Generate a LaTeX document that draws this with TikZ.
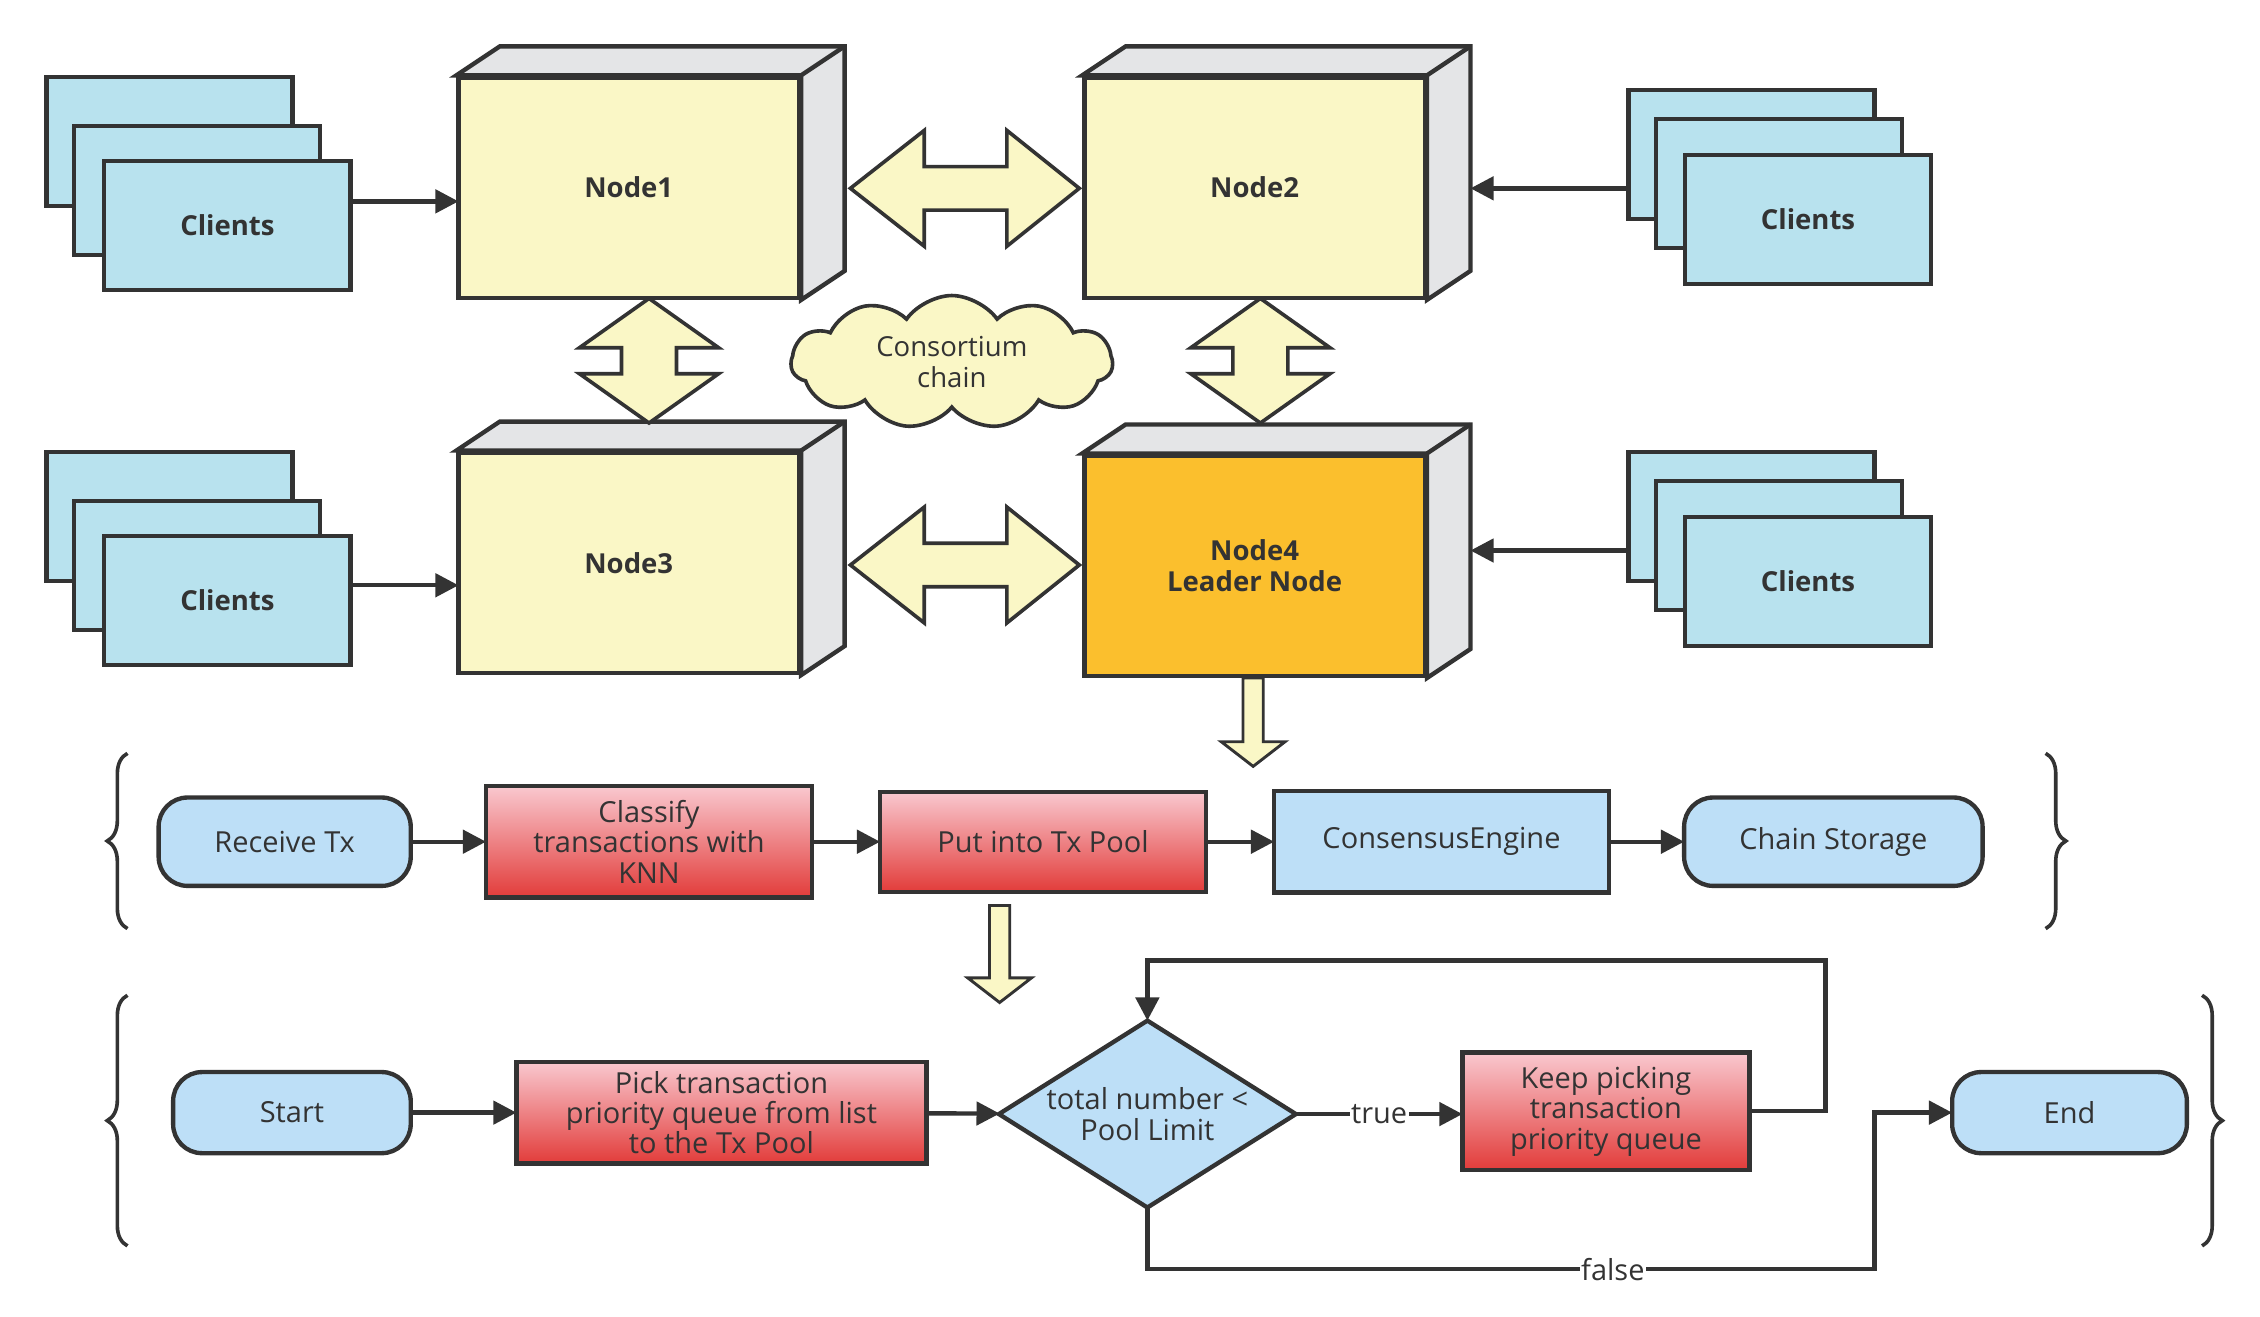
\documentclass[tikz,border=0pt]{standalone}
\usepackage{fontspec}
\setmainfont{Open Sans}
\usetikzlibrary{shapes.symbols,shapes.geometric,arrows.meta,decorations.pathreplacing}
\definecolor{ln}{HTML}{333333}
\definecolor{ylw}{HTML}{FAF7C6}
\definecolor{cli}{HTML}{B8E2EE}
\definecolor{side}{HTML}{E4E5E7}
\definecolor{fb}{HTML}{BDDFF7}
\definecolor{org}{HTML}{FBBF2D}
\definecolor{rtop}{HTML}{F9C8CF}
\definecolor{rbot}{HTML}{E23C3A}
\begin{document}
\begin{tikzpicture}[x=1pt,y=-1pt,line join=miter,
  every node/.style={font=\fontsize{20}{21}\selectfont,text=ln,align=center,inner sep=0pt,outer sep=0pt},
  bl/.style={draw=ln,line width=3pt},
  cl/.style={bl,fill=cli,font=\fontsize{19}{22}\selectfont\bfseries},
  arr/.style={line width=3pt,draw=ln,-{Triangle[length=16pt,width=16pt]}},
  big/.style={draw=ln,line width=2.5pt,fill=ylw},
  pill/.style={bl,fill=fb,rounded corners=20pt},
  red/.style={bl,top color=rtop,bottom color=rbot},
  brc/.style={draw=ln,line width=2.5pt,decorate,decoration={brace,amplitude=14pt}}]
\useasboundingbox (0,0) rectangle (1560,909);
\newcommand{\cube}[6]{%
  \fill[fill=side,draw=ln,line width=3pt] (#1,#2)--(#1+30,#2-20)--(#3+30,#2-20)--(#3+30,#4-20)--(#3,#4)--(#3,#2)--cycle;
  \draw[ln,line width=3pt] (#3,#2)--(#3+30,#2-20);
  \node[bl,fill=#5,minimum width=#3-#1-3,minimum height=#4-#2-3,anchor=north west] (#6) at (#1+1.5,#2+1.5) {};}
\cube{315}{52}{553}{207}{ylw}{n1}
\cube{747}{52}{985}{207}{ylw}{n2}
\cube{315}{311}{553}{466}{ylw}{n3}
\cube{747}{313}{985}{468}{org}{n4}
\node[font=\fontsize{19}{22}\selectfont\bfseries] at (n1) {Node1};
\node[font=\fontsize{19}{22}\selectfont\bfseries] at (n2) {Node2};
\node[font=\fontsize{19}{22}\selectfont\bfseries] at (n3) {Node3};
\node[font=\fontsize{19}{22}\selectfont\bfseries] at (n4) {Node4\\Leader Node};
\coordinate (n2r) at (1015,130);
\coordinate (n4r) at (1015,380);
\newcommand{\clients}[3]{%
  \node[cl,minimum width=170,minimum height=89,anchor=north west] at (#1,#2) {};
  \node[cl,minimum width=170,minimum height=89,anchor=north west] at (#1+19,#2+34) {};
  \node[cl,minimum width=170,minimum height=89,anchor=north west] (#3) at (#1+40,#2+58) {Clients};}
\clients{32}{53}{c1}
\clients{32}{312}{c3}
\newcommand{\clientsR}[3]{%
  \node[cl,minimum width=170,minimum height=89,anchor=north west] (#3b) at (#1,#2) {};
  \node[cl,minimum width=170,minimum height=89,anchor=north west] at (#1+19,#2+20) {};
  \node[cl,minimum width=170,minimum height=89,anchor=north west] (#3) at (#1+39,#2+45) {Clients};}
\clientsR{1124}{62}{c2}
\clientsR{1124}{312}{c4}
\draw[arr] (c1.east|-0,139) -- (n1.west|-0,139);
\draw[arr] (c3.east|-0,404) -- (n3.west|-0,404);
\draw[arr] (c2b.west|-n2r) -- (n2r);
\draw[arr] (c4b.west|-n4r) -- (n4r);
\newcommand{\harr}[2]{\draw[big] (#1,#2)--(#1+51,#2-40)--(#1+51,#2-15)--(#1+108,#2-15)--(#1+108,#2-40)--(#1+158,#2)--(#1+108,#2+40)--(#1+108,#2+15)--(#1+51,#2+15)--(#1+51,#2+40)--cycle;}
\harr{587}{130}
\harr{587}{390}
\newcommand{\varr}[2]{\draw[big] (#1,#2)--(#1+48,#2+34)--(#1+19,#2+34)--(#1+19,#2+52)--(#1+48,#2+52)--(#1,#2+86)--(#1-48,#2+52)--(#1-19,#2+52)--(#1-19,#2+34)--(#1-48,#2+34)--cycle;}
\varr{448}{206}
\varr{870}{206}
\node[cloud,cloud puffs=11,cloud puff arc=110,aspect=2.4,draw=ln,line width=2.5pt,fill=ylw,minimum width=222,minimum height=92,font=\fontsize{19}{21}\selectfont] (cc) at (657,250) {Consortium\\chain};
\newcommand{\darr}[3]{\draw[draw=ln,line width=2pt,fill=ylw] (#1-7,#2)--(#1+7,#2)--(#1+7,#3-17)--(#1+22,#3-17)--(#1,#3)--(#1-22,#3-17)--(#1-7,#3-17)--cycle;}
\darr{865}{468}{529}
\darr{690}{625}{692}
\node[pill,minimum width=174,minimum height=61] (rt) at (196.5,581) {Receive Tx};
\node[red,minimum width=225,minimum height=77] (ck) at (448,581) {Classify\\transactions with\\KNN};
\node[red,minimum width=225,minimum height=69] (pt) at (720,581) {Put into Tx Pool};
\node[bl,fill=fb,minimum width=231,minimum height=70] (ce) at (995,581) {ConsensusEngine};
\node[pill,minimum width=206,minimum height=61] (cs) at (1265.5,581) {Chain Storage};
\draw[arr] (rt)--(ck);
\draw[arr] (ck)--(pt);
\draw[arr] (pt)--(ce);
\draw[arr] (ce)--(cs);
\draw[brc] (88,641)--(88,520);
\draw[brc] (1412,520)--(1412,641);
\node[pill,minimum width=164,minimum height=56] (st) at (201.5,768) {Start};
\node[red,minimum width=283,minimum height=70] (pk) at (498,768) {Pick transaction\\priority queue from list\\to the Tx Pool};
\node[diamond,bl,fill=fb,minimum width=205,minimum height=129,aspect=1.58,inner sep=0pt] (dm) at (792,769) {};
\node at (792,769) {total number <\\Pool Limit};
\node[red,minimum width=198,minimum height=81] (kp) at (1108.5,767) {Keep picking\\transaction\\priority queue};
\node[pill,minimum width=162,minimum height=56] (en) at (1428.5,768) {End};
\draw[arr] (st)--(pk);
\draw[arr] (pk)--(dm);
\draw[arr] (dm.east)--node[fill=white,inner sep=1pt]{true}(kp.west|-dm.east);
\draw[arr] (kp.east)--(1260,767)--(1260,663)--(792,663)--(dm.north);
\draw[arr] (dm.south)--(792,876)--node[pos=0.64,fill=white,inner sep=1pt]{false}(1294,876)--(1294,768)--(en.west);
\draw[brc] (88,860)--(88,687);
\draw[brc] (1520,687)--(1520,860);
\end{tikzpicture}
\end{document}
